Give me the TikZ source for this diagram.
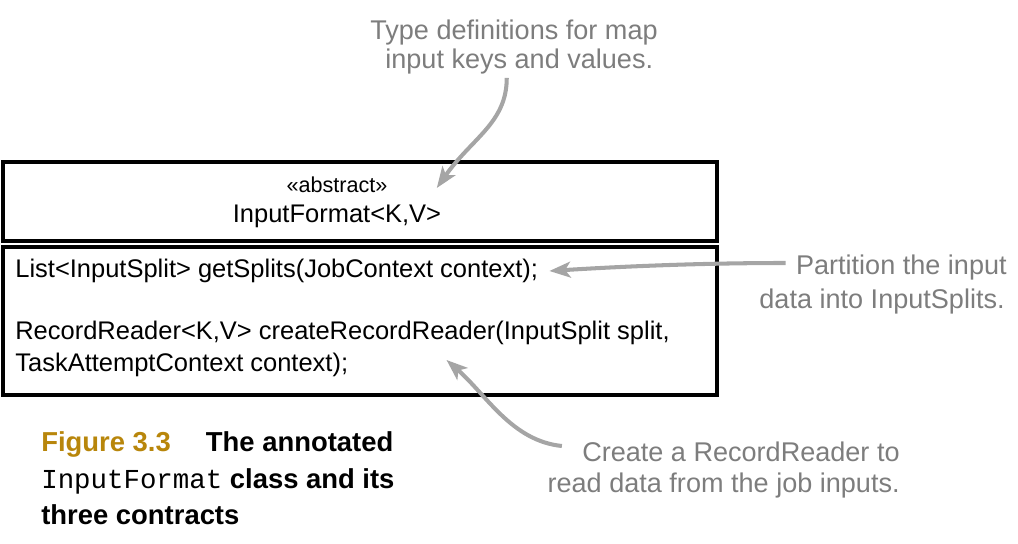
\documentclass[tikz,border=0pt]{standalone}
\usepackage{fontspec}
\setmainfont{Liberation Sans}
\setmonofont{Liberation Mono}
\usetikzlibrary{arrows.meta}
\definecolor{figgold}{RGB}{184,134,11}
\definecolor{notegray}{RGB}{125,125,125}
\definecolor{arrowgray}{RGB}{165,165,165}

\begin{document}
\begin{tikzpicture}[x=0.2mm,y=-0.2mm,
  classbox/.style={draw,line width=2.3pt,minimum width=142.8mm,anchor=north west,inner sep=0,outer sep=0},
  member/.style={anchor=west,inner sep=0,font=\fontsize{14.5}{17}\selectfont},
  note/.style={inner sep=0,text=notegray,font=\fontsize{15.4}{19}\selectfont},
  capline/.style={anchor=base west,inner sep=0,font=\fontsize{15.6}{21}\selectfont\bfseries},
  callout/.style={draw=arrowgray,line width=2.3pt,-{Stealth[length=12pt,width=9pt,inset=3pt]}}]

\useasboundingbox (0,0) rectangle (1018,544);

% the class
\node [classbox,minimum height=15.8mm] (head) at (3,162) {};
\node [classbox,minimum height=29.6mm] (body) at (3,247) {};
\node [inner sep=0,font=\fontsize{12.3}{14}\selectfont] (abstract) at (337,185) {«abstract»};
\node [inner sep=0,font=\fontsize{14.5}{17}\selectfont] (classname) at (337,216) {InputFormat<K,V>};
\node [member] (getsplits) at (15,271) {List<InputSplit> getSplits(JobContext context);};
\node [member] (recordreader) at (15,333) {RecordReader<K,V> createRecordReader(InputSplit split,};
\node [member] (taskcontext) at (15,365) {TaskAttemptContext context);};

% notes
\node [note,anchor=west] (typedefs) at (370,33) {Type definitions for map};
\node [note,anchor=west] (typekeys) at (385,62) {input keys and values.};
\node [note,anchor=east] (partition) at (1007,268) {Partition the input};
\node [note,anchor=east] (partsplits) at (1005,302) {data into InputSplits.};
\node [note,anchor=east] (createrr) at (900,452) {Create a RecordReader to};
\node [note,anchor=east] (readdata) at (900,486) {read data from the job inputs.};

\draw [callout] ([xshift=-2.5mm,yshift=-0.6mm]typekeys.south) .. controls +(0,45) and +(35,-50) .. ([xshift=9.8mm,yshift=-0.6mm]abstract.east);
\draw [callout] ([xshift=-2mm,yshift=1mm]partition.west) .. controls +(-80,0) and +(80,-5) .. ([xshift=2.2mm]getsplits.east);
\draw [callout] ([xshift=-4mm,yshift=1.2mm]createrr.west) .. controls +(-50,-5) and +(40,35) .. ([xshift=19.6mm,yshift=1mm]taskcontext.east);

% caption
\node [capline] (cap1) at (41,451) {\textcolor{figgold}{Figure 3.3}\hspace{20pt}The annotated};
\node [capline] (cap2) at (41,488) {{\ttfamily\mdseries InputFormat} class and its};
\node [capline] (cap3) at (41,524) {three contracts};
\end{tikzpicture}
\end{document}
